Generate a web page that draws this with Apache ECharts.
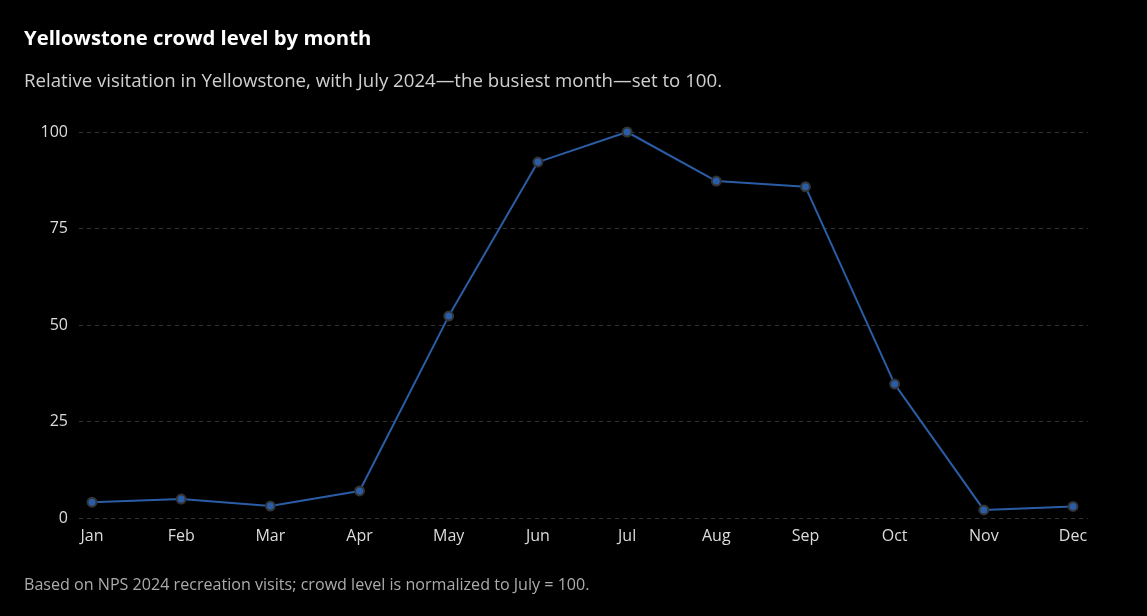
<!DOCTYPE html>
<html><head><meta charset="utf-8">
<script src="https://cdn.jsdelivr.net/npm/echarts@6/dist/echarts.min.js"></script>
<style>html,body{margin:0;padding:0;background:#000;}#c{width:1147px;height:616px;}</style>
</head><body><div id="c"></div>
<script>
const months = ['Jan','Feb','Mar','Apr','May','Jun','Jul','Aug','Sep','Oct','Nov','Dec'];
const crowdLevel = [4.1, 4.9, 3.1, 7.0, 52.3, 92.2, 100, 87.3, 85.8, 34.7, 2.1, 3.0];
const yTicks = [0, 25, 50, 75, 100];
const titleText = 'Yellowstone crowd level by month';
const subtitleText = 'Relative visitation in Yellowstone, with July 2024\u2014the busiest month\u2014set to 100.';
const footnoteText = 'Based on NPS 2024 recreation visits; crowd level is normalized to July = 100.';

const FONT = '"Open Sans", "Noto Sans", sans-serif';
const chart = echarts.init(document.getElementById('c'));
chart.setOption({
  backgroundColor: '#000',
  animation: false,
  title: [
    {text: titleText, left: 24, top: 28, padding: 0, textStyle: {color: '#fff', fontSize: 20.3, fontWeight: 'bold', fontFamily: FONT, lineHeight: 22}},
    {text: subtitleText, left: 24, top: 71, padding: 0, textStyle: {color: '#d0d0d0', fontSize: 18.65, fontWeight: 'normal', fontFamily: FONT, lineHeight: 22}},
    {text: footnoteText, left: 24, top: 576, padding: 0, textStyle: {color: '#ababab', fontSize: 16.1, fontWeight: 'normal', fontFamily: FONT, lineHeight: 18}}
  ],
  grid: [
    {left: 92, right: 74, top: 132, bottom: 98},
    {left: 79, right: 59, top: 132, bottom: 98}
  ],
  xAxis: [
    {type: 'category', gridIndex: 0, data: months, boundaryGap: false,
     axisLine: {show: false}, axisTick: {show: false},
     axisLabel: {color: '#dcdcdc', fontSize: 16, fontFamily: FONT, margin: 10}},
    {type: 'category', gridIndex: 1, data: months, show: false}
  ],
  yAxis: [
    {type: 'value', gridIndex: 0, min: 0, max: 100, interval: 25, show: false, splitLine: {show: false}},
    {type: 'value', gridIndex: 1, min: 0, max: 100, interval: 25,
     axisLine: {show: false}, axisTick: {show: false},
     axisLabel: {color: '#dcdcdc', fontSize: 16, fontFamily: FONT, margin: 11,
       customValues: yTicks},
     splitLine: {show: true, lineStyle: {color: '#333', type: [4, 4], width: 1}}}
  ],
  series: [{
    type: 'line', xAxisIndex: 0, yAxisIndex: 0, data: crowdLevel,
    symbol: 'circle', symbolSize: 9,
    lineStyle: {color: '#2b5da6', width: 2},
    itemStyle: {color: '#2b5da6', borderColor: '#333', borderWidth: 2},
    z: 5
  }]
});
</script></body></html>
